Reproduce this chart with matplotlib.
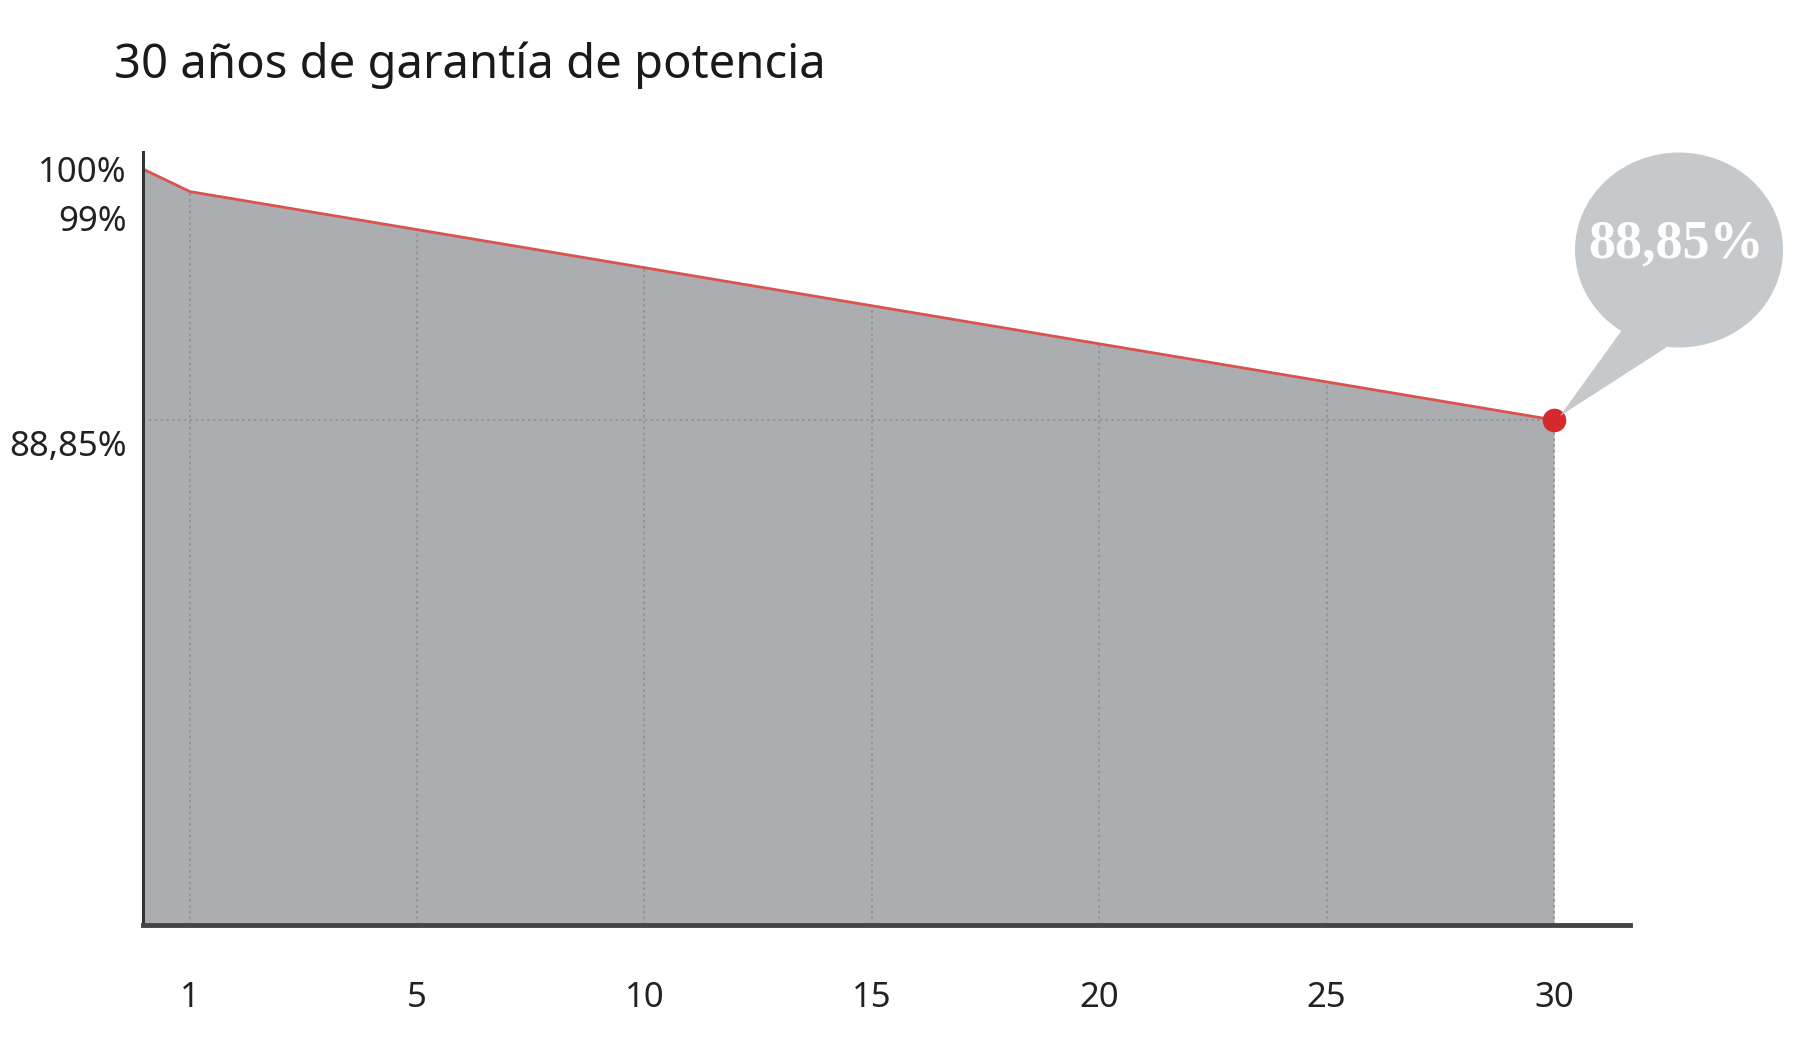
import matplotlib
matplotlib.use("Agg")
import matplotlib.pyplot as plt
from matplotlib.patches import Ellipse, Polygon
import numpy as np

# data
years = [0, 1, 30]
power = [100.0, 99.0, 88.85]
xtick_years = [1, 5, 10, 15, 20, 25, 30]
ytick_values = [100.0, 99.0, 88.85]
ytick_labels = ["100%", "99%", "88,85%"]
ytick_shift = [-4, -30, -27]  # pixel nudges used in the original artwork
callout_text = "88,85%"
title = "30 años de garantía de potencia"

fill_color = "#acadb0"
line_color = "#d9534f"
dot_color = "#d42a2e"
bubble_color = "#c6c9cc"
grid_color = "#8e8f93"

W, H = 1809, 1056
fig = plt.figure(figsize=(W / 100, H / 100), dpi=100)
ax = fig.add_axes([143 / W, 1 - 925 / H, (1630 - 143) / W, (925 - 152) / H])

# the artwork spaces the labelled years evenly (1, 5, 10, ... all one step apart)
knots_x = [0, 1, 5, 30, 40]
knots_p = [0, 47, 274, 1411, 1865]


def fwd(x):
    return np.interp(x, knots_x, knots_p)


def inv(p):
    return np.interp(p, knots_p, knots_x)


ax.set_xscale("function", functions=(fwd, inv))
ax.set_xlim(0, inv(1487))
ymin = 66.4
ax.set_ylim(ymin, 100.76)

ax.fill_between(years, power, ymin, color=fill_color, linewidth=0, zorder=1)
ax.plot(years, power, color=line_color, linewidth=2, zorder=4)

# dotted guides, from the axis up to the (screen-straight) curve
tops = np.interp(fwd(xtick_years), fwd(years), power)
ax.vlines(xtick_years, ymin, tops, colors=grid_color, linestyles=(0, (1.5, 2)),
          linewidth=1.2, zorder=2)
ax.hlines(power[-1], 0, years[-1], colors=grid_color, linestyles=(0, (1.5, 2)),
          linewidth=1.2, zorder=2)

ax.plot(years[-1], power[-1], "o", color=dot_color, markersize=16, zorder=6,
        clip_on=False)

for spine in ["top", "right"]:
    ax.spines[spine].set_visible(False)
ax.spines["left"].set_color("#333333")
ax.spines["left"].set_linewidth(2.2)
ax.spines["bottom"].set_color("#444444")
ax.spines["bottom"].set_linewidth(3.5)
ax.spines["left"].set_zorder(7)
ax.spines["bottom"].set_zorder(7)

ax.set_xticks(xtick_years)
ax.set_xticklabels([str(y) for y in xtick_years], fontsize=25,
                   family="Noto Sans", fontweight="light", color="#222222")
ax.xaxis.set_minor_locator(plt.NullLocator())
ax.tick_params(axis="x", length=0, pad=40)
ax.set_yticks([])

for val, lab, dy in zip(ytick_values, ytick_labels, ytick_shift):
    ax.annotate(lab, xy=(0, val), xycoords=("axes fraction", "data"),
                xytext=(-16, dy), textcoords="offset pixels",
                ha="right", va="center", fontsize=25, family="Noto Sans",
                fontweight="light", color="#222222", annotation_clip=False)

# speech bubble callout (figure pixel coordinates)
px = fig.transFigure.inverted()


def fp(x, y):
    return px.transform((x, H - y))


cx, cy = fp(1679, 250)
bubble = Ellipse((cx, cy), 208 / W, 195 / H, transform=fig.transFigure,
                 facecolor=bubble_color, edgecolor="none", zorder=3)
tail = Polygon([fp(1560, 416), fp(1622, 330), fp(1667, 347)], closed=True,
               transform=fig.transFigure, facecolor=bubble_color,
               edgecolor="none", zorder=3)
fig.patches.extend([tail, bubble])

tx, ty = fp(1676, 244)
fig.text(tx, ty, callout_text, ha="center", va="center", fontsize=39,
         fontweight="bold", family="Liberation Serif", color="white", zorder=5)

t1, t2 = fp(114, 65)
fig.text(t1, t2, title, ha="left", va="center", fontsize=34,
         family="Noto Sans", color="#1a1a1a")

fig.savefig("out.png", dpi=100)
